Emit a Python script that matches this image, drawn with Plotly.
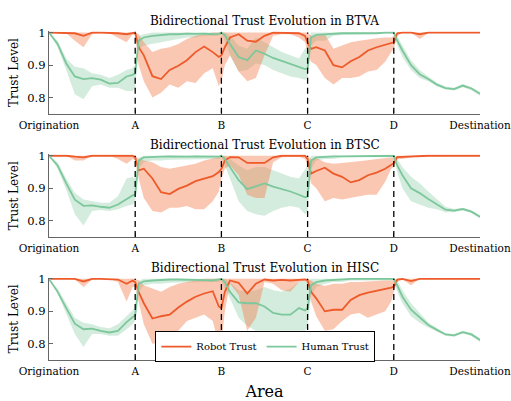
import plotly.graph_objects as go

# ---------------- data ----------------
X = [0, 0.1, 0.2, 0.3, 0.4, 0.5, 0.6, 0.7, 0.8, 0.9, 0.97, 1.0, 1.04,
     1.1, 1.2, 1.3, 1.4, 1.5, 1.6, 1.7, 1.8, 1.9, 1.97, 2.0, 2.04,
     2.1, 2.2, 2.3, 2.4, 2.5, 2.6, 2.7, 2.8, 2.9, 2.97, 3.0, 3.04,
     3.1, 3.2, 3.3, 3.4, 3.5, 3.6, 3.7, 3.8, 3.9, 3.97, 4.0, 4.04,
     4.1, 4.2, 4.3, 4.4, 4.5, 4.6, 4.7, 4.8, 4.9, 5.0]

TICK_VALS = [0, 1, 2, 3, 4, 5]
TICK_TEXT = ["Origination", "A", "B", "C", "D", "Destination"]
BOUNDS = [1, 2, 3, 4]
TITLES = ["Bidirectional Trust Evolution in BTVA",
          "Bidirectional Trust Evolution in BTSC",
          "Bidirectional Trust Evolution in HISC"]

# --- BTVA ---
btva_robot = [1.0, 1.0, 1.0, 0.998, 0.99, 1.0, 1.0, 1.0, 0.998, 0.995, 1.0, 1.0, 0.955,
              0.93, 0.866, 0.857, 0.885, 0.898, 0.915, 0.94, 0.957, 0.94, 0.925, 0.93, 0.955,
              0.985, 0.995, 0.975, 0.972, 0.99, 1.0, 1.0, 1.0, 0.998, 0.99, 0.97, 0.95,
              0.955, 0.945, 0.9, 0.893, 0.912, 0.925, 0.945, 0.955, 0.962, 0.966, 0.97, 0.998,
              1.0, 1.0, 0.995, 1.0, 1.0, 1.0, 1.0, 1.0, 1.0, 1.0]
btva_robot_lo = [1.0, 1.0, 0.998, 0.975, 0.955, 0.995, 0.998, 0.998, 0.985, 0.97, 0.995, 0.99, 0.9,
                 0.85, 0.8, 0.815, 0.84, 0.83, 0.85, 0.845, 0.875, 0.89, 0.835, 0.85, 0.9,
                 0.93, 0.88, 0.85, 0.86, 0.93, 0.99, 0.995, 0.995, 0.985, 0.97, 0.94, 0.91,
                 0.9, 0.86, 0.84, 0.86, 0.86, 0.865, 0.88, 0.885, 0.91, 0.94, 0.95, 0.99,
                 1.0, 1.0, 0.98, 0.998, 1.0, 1.0, 1.0, 1.0, 1.0, 1.0]
btva_robot_hi = [1.0, 1.0, 1.0, 1.0, 1.0, 1.0, 1.0, 1.0, 1.0, 1.0, 1.0, 1.0, 0.995,
                 0.97, 0.94, 0.95, 0.955, 0.965, 0.98, 0.99, 0.995, 1.0, 1.0, 1.0, 1.0,
                 1.0, 1.0, 1.0, 1.0, 1.0, 1.0, 1.0, 1.0, 1.0, 1.0, 1.0, 0.99,
                 0.99, 0.995, 0.95, 0.96, 0.97, 0.975, 0.98, 0.983, 0.985, 0.985, 0.99, 1.0,
                 1.0, 1.0, 1.0, 1.0, 1.0, 1.0, 1.0, 1.0, 1.0, 1.0]
btva_human = [1.0, 0.965, 0.905, 0.865, 0.857, 0.86, 0.855, 0.843, 0.845, 0.865, 0.87, 0.875, 0.975,
              0.985, 0.99, 0.993, 0.995, 0.995, 0.997, 0.996, 0.997, 0.995, 0.996, 1.0, 0.992,
              0.965, 0.925, 0.915, 0.945, 0.935, 0.922, 0.913, 0.903, 0.893, 0.888, 0.89, 0.985,
              0.993, 0.995, 0.997, 0.998, 0.998, 0.998, 0.997, 0.998, 1.0, 1.0, 1.0, 0.975,
              0.945, 0.9, 0.872, 0.857, 0.84, 0.829, 0.826, 0.837, 0.828, 0.812]
btva_human_lo = [1.0, 0.955, 0.885, 0.81, 0.795, 0.835, 0.84, 0.83, 0.83, 0.82, 0.82, 0.83, 0.95,
                 0.96, 0.965, 0.97, 0.975, 0.98, 0.985, 0.985, 0.99, 0.99, 0.99, 0.995, 0.975,
                 0.93, 0.88, 0.885, 0.905, 0.9, 0.885, 0.875, 0.865, 0.86, 0.855, 0.86, 0.96,
                 0.975, 0.975, 0.99, 0.993, 0.995, 0.995, 0.995, 0.996, 0.997, 0.997, 0.995, 0.96,
                 0.925, 0.885, 0.86, 0.85, 0.835, 0.825, 0.822, 0.832, 0.823, 0.806]
btva_human_hi = [1.0, 0.975, 0.92, 0.895, 0.89, 0.875, 0.87, 0.86, 0.87, 0.885, 0.89, 0.9, 0.99,
                 0.995, 1.0, 1.0, 1.0, 1.0, 1.0, 1.0, 1.0, 1.0, 1.0, 1.0, 1.0,
                 0.99, 0.96, 0.95, 0.985, 0.97, 0.955, 0.94, 0.93, 0.92, 0.95, 0.96, 1.0,
                 1.0, 1.0, 1.0, 1.0, 1.0, 1.0, 1.0, 1.0, 1.0, 1.0, 1.0, 0.99,
                 0.96, 0.915, 0.885, 0.865, 0.846, 0.834, 0.83, 0.842, 0.833, 0.817]

# --- BTSC ---
btsc_robot = [1.0, 1.0, 1.0, 0.997, 0.995, 1.0, 1.0, 1.0, 1.0, 0.998, 1.0, 0.995, 0.955,
              0.96, 0.93, 0.888, 0.882, 0.898, 0.908, 0.922, 0.93, 0.937, 0.95, 0.96, 0.985,
              0.996, 0.995, 0.978, 0.978, 0.978, 0.995, 1.0, 1.0, 1.0, 1.0, 0.99, 0.945,
              0.953, 0.963, 0.945, 0.935, 0.918, 0.925, 0.94, 0.948, 0.96, 0.973, 0.977, 0.996,
              0.997, 0.998, 0.999, 1.0, 1.0, 1.0, 1.0, 1.0, 1.0, 1.0]
btsc_robot_lo = [1.0, 1.0, 1.0, 0.985, 0.985, 1.0, 1.0, 1.0, 0.99, 0.975, 0.99, 0.985, 0.93,
                 0.87, 0.83, 0.825, 0.84, 0.84, 0.845, 0.835, 0.835, 0.86, 0.89, 0.93, 0.96,
                 0.97, 0.94, 0.88, 0.87, 0.87, 0.98, 0.995, 0.997, 0.997, 0.99, 0.97, 0.915,
                 0.9, 0.86, 0.87, 0.865, 0.87, 0.875, 0.88, 0.88, 0.92, 0.96, 0.965, 0.99,
                 0.99, 0.995, 0.998, 1.0, 1.0, 1.0, 1.0, 1.0, 1.0, 1.0]
btsc_robot_hi = [1.0, 1.0, 1.0, 1.0, 1.0, 1.0, 1.0, 1.0, 1.0, 1.0, 1.0, 1.0, 0.99,
                 0.985, 0.98, 0.965, 0.96, 0.965, 0.97, 0.975, 0.985, 0.99, 0.995, 1.0, 1.0,
                 1.0, 1.0, 1.0, 1.0, 1.0, 1.0, 1.0, 1.0, 1.0, 1.0, 1.0, 0.99,
                 0.993, 0.98, 0.975, 0.978, 0.98, 0.983, 0.986, 0.99, 0.993, 0.995, 0.995, 1.0,
                 1.0, 1.0, 1.0, 1.0, 1.0, 1.0, 1.0, 1.0, 1.0, 1.0]
btsc_human = [1.0, 0.97, 0.915, 0.865, 0.846, 0.847, 0.843, 0.84, 0.85, 0.868, 0.878, 0.88, 0.985,
              0.995, 0.997, 0.997, 0.998, 0.997, 0.997, 0.998, 0.997, 0.997, 0.997, 1.0, 0.99,
              0.965, 0.925, 0.897, 0.905, 0.915, 0.905, 0.898, 0.89, 0.88, 0.872, 0.875, 0.985,
              0.995, 0.997, 0.998, 0.998, 0.998, 0.998, 0.998, 0.998, 0.998, 1.0, 1.0, 0.97,
              0.94, 0.9, 0.885, 0.867, 0.85, 0.834, 0.831, 0.836, 0.828, 0.812]
btsc_human_lo = [1.0, 0.96, 0.895, 0.82, 0.785, 0.83, 0.833, 0.83, 0.835, 0.845, 0.85, 0.86, 0.96,
                 0.98, 0.985, 0.985, 0.988, 0.99, 0.99, 0.99, 0.99, 0.99, 0.99, 0.995, 0.97,
                 0.93, 0.86, 0.83, 0.82, 0.815, 0.83, 0.84, 0.845, 0.84, 0.82, 0.83, 0.96,
                 0.985, 0.99, 0.99, 0.995, 0.995, 0.995, 0.995, 0.995, 0.995, 0.995, 0.995, 0.95,
                 0.9, 0.86, 0.85, 0.84, 0.835, 0.826, 0.826, 0.832, 0.824, 0.807]
btsc_human_hi = [1.0, 0.98, 0.93, 0.885, 0.865, 0.86, 0.855, 0.855, 0.875, 0.93, 0.935, 0.93, 0.995,
                 1.0, 1.0, 1.0, 1.0, 1.0, 1.0, 1.0, 1.0, 1.0, 1.0, 1.0, 1.0,
                 0.99, 0.97, 0.955, 0.965, 0.965, 0.955, 0.945, 0.935, 0.93, 0.96, 0.97, 1.0,
                 1.0, 1.0, 1.0, 1.0, 1.0, 1.0, 1.0, 1.0, 1.0, 1.0, 1.0, 0.99,
                 0.965, 0.935, 0.915, 0.89, 0.865, 0.843, 0.836, 0.84, 0.832, 0.817]

# --- HISC ---
hisc_robot = [1.0, 1.0, 1.0, 1.0, 0.992, 1.0, 1.0, 1.0, 0.998, 0.985, 0.995, 0.99, 0.96,
              0.925, 0.878, 0.885, 0.89, 0.912, 0.93, 0.945, 0.955, 0.962, 0.915, 0.91, 0.96,
              0.995, 0.988, 0.955, 0.985, 0.998, 0.995, 0.997, 0.995, 0.997, 0.998, 0.995, 0.96,
              0.94, 0.9, 0.905, 0.905, 0.935, 0.95, 0.958, 0.963, 0.968, 0.973, 0.976, 0.998,
              1.0, 0.993, 1.0, 1.0, 1.0, 1.0, 1.0, 1.0, 1.0, 1.0]
hisc_robot_lo = [1.0, 1.0, 1.0, 0.998, 0.975, 0.998, 1.0, 1.0, 0.99, 0.93, 0.975, 0.975, 0.93,
                 0.86, 0.8, 0.805, 0.815, 0.84, 0.87, 0.88, 0.89, 0.87, 0.795, 0.8, 0.9,
                 0.985, 0.95, 0.84, 0.88, 0.99, 0.985, 0.965, 0.96, 0.99, 0.995, 0.985, 0.93,
                 0.885, 0.84, 0.845, 0.87, 0.89, 0.895, 0.88, 0.89, 0.9, 0.93, 0.96, 0.99,
                 0.998, 0.98, 1.0, 1.0, 1.0, 1.0, 1.0, 1.0, 1.0, 1.0]
hisc_robot_hi = [1.0, 1.0, 1.0, 1.0, 1.0, 1.0, 1.0, 1.0, 1.0, 1.0, 1.0, 1.0, 0.995,
                 0.98, 0.97, 0.96, 0.975, 0.985, 0.99, 0.995, 1.0, 1.0, 1.0, 1.0, 1.0,
                 1.0, 1.0, 1.0, 1.0, 1.0, 1.0, 1.0, 1.0, 1.0, 1.0, 1.0, 0.995,
                 0.985, 0.978, 0.985, 0.985, 0.99, 0.99, 0.992, 0.993, 0.995, 0.995, 0.995, 1.0,
                 1.0, 1.0, 1.0, 1.0, 1.0, 1.0, 1.0, 1.0, 1.0, 1.0]
hisc_human = [1.0, 0.96, 0.91, 0.862, 0.845, 0.847, 0.84, 0.835, 0.84, 0.867, 0.882, 0.888, 0.985,
              0.992, 0.995, 0.997, 0.998, 0.998, 0.998, 0.997, 0.996, 0.995, 0.997, 1.0, 0.99,
              0.96, 0.928, 0.925, 0.925, 0.915, 0.895, 0.89, 0.89, 0.91, 0.903, 0.91, 0.98,
              0.99, 0.995, 0.997, 0.998, 1.0, 1.0, 1.0, 1.0, 1.0, 1.0, 1.0, 0.98,
              0.945, 0.905, 0.88, 0.858, 0.843, 0.829, 0.826, 0.836, 0.829, 0.812]
hisc_human_lo = [1.0, 0.955, 0.895, 0.83, 0.79, 0.83, 0.83, 0.825, 0.825, 0.845, 0.86, 0.87, 0.96,
                 0.98, 0.985, 0.985, 0.988, 0.99, 0.99, 0.99, 0.99, 0.99, 0.99, 0.995, 0.97,
                 0.94, 0.88, 0.855, 0.84, 0.84, 0.84, 0.84, 0.84, 0.84, 0.84, 0.85, 0.95,
                 0.975, 0.985, 0.99, 0.99, 0.995, 0.995, 0.995, 0.995, 0.995, 0.995, 0.995, 0.96,
                 0.925, 0.885, 0.865, 0.85, 0.837, 0.825, 0.822, 0.832, 0.824, 0.806]
hisc_human_hi = [1.0, 0.97, 0.925, 0.88, 0.865, 0.86, 0.852, 0.848, 0.86, 0.885, 0.9, 0.91, 0.995,
                 1.0, 1.0, 1.0, 1.0, 1.0, 1.0, 1.0, 1.0, 1.0, 1.0, 1.0, 1.0,
                 0.99, 0.965, 0.96, 0.965, 0.975, 0.965, 0.96, 0.97, 0.99, 0.995, 0.99, 1.0,
                 1.0, 1.0, 1.0, 1.0, 1.0, 1.0, 1.0, 1.0, 1.0, 1.0, 1.0, 0.995,
                 0.965, 0.925, 0.895, 0.866, 0.849, 0.833, 0.83, 0.84, 0.834, 0.818]

PANELS = [
    (btva_robot, btva_robot_lo, btva_robot_hi, btva_human, btva_human_lo, btva_human_hi),
    (btsc_robot, btsc_robot_lo, btsc_robot_hi, btsc_human, btsc_human_lo, btsc_human_hi),
    (hisc_robot, hisc_robot_lo, hisc_robot_hi, hisc_human, hisc_human_lo, hisc_human_hi),
]

# ---------------- style ----------------
W, H = 511, 401
FONT = "DejaVu Serif"
ROBOT = "#EE5A2A"
HUMAN = "#7CC79B"
ROBOT_BAND = "rgba(242,122,72,0.42)"
HUMAN_BAND = "rgba(120,195,150,0.32)"
AXC = "#666666"
PANEL_TOP_PX = [25.7, 150.7, 275.7]
PANEL_BOT_PX = [109.5, 234.5, 359.5]
TITLE_PX = [15, 141, 266]

fig = go.Figure()
layout = dict(
    width=W, height=H,
    margin=dict(l=49, r=31, t=0, b=0),
    paper_bgcolor="white", plot_bgcolor="white",
    font=dict(family=FONT, size=12, color="black"),
    showlegend=True,
    legend=dict(orientation="h", x=0.502, xanchor="center", y=0.0985, yanchor="bottom",
                bgcolor="white", bordercolor="black", borderwidth=1,
                font=dict(family=FONT, size=10), tracegroupgap=0,
                itemwidth=30),
)

shapes = []
annotations = []
for k, (r, rlo, rhi, h, hlo, hhi) in enumerate(PANELS):
    idx = "" if k == 0 else str(k + 1)
    xa, ya = "x" + idx, "y" + idx
    fig.add_trace(go.Scatter(x=X + X[::-1], y=hhi + hlo[::-1], fill="toself",
                             fillcolor=HUMAN_BAND, line=dict(width=0), mode="lines",
                             hoverinfo="skip", showlegend=False, xaxis=xa, yaxis=ya))
    fig.add_trace(go.Scatter(x=X + X[::-1], y=rhi + rlo[::-1], fill="toself",
                             fillcolor=ROBOT_BAND, line=dict(width=0), mode="lines",
                             hoverinfo="skip", showlegend=False, xaxis=xa, yaxis=ya))
    fig.add_trace(go.Scatter(x=X, y=r, mode="lines", line=dict(color=ROBOT, width=1.8),
                             name="Robot Trust", showlegend=(k == 2), xaxis=xa, yaxis=ya))
    fig.add_trace(go.Scatter(x=X, y=h, mode="lines", line=dict(color=HUMAN, width=1.8),
                             name="Human Trust", showlegend=(k == 2), xaxis=xa, yaxis=ya))
    dom = [1 - PANEL_BOT_PX[k] / H, 1 - PANEL_TOP_PX[k] / H]
    layout["xaxis" + idx] = dict(
        domain=[0, 1], range=[0, 5], anchor=ya,
        tickvals=TICK_VALS, ticktext=TICK_TEXT, ticks="inside", ticklen=4,
        tickcolor=AXC, showline=True, linecolor=AXC, linewidth=1.2,
        showgrid=False, zeroline=False, tickfont=dict(family=FONT, size=10.5),
        ticklabelstandoff=1, ticklabeloverflow="allow",
    )
    layout["yaxis" + idx] = dict(
        domain=dom, range=[0.75, 1.004], anchor=xa,
        tickvals=[0.8, 0.9, 1.0], ticktext=["0.8", "0.9", "1"], ticks="inside", ticklen=4,
        tickcolor=AXC, showline=True, linecolor=AXC, linewidth=1.2,
        showgrid=False, zeroline=False, tickfont=dict(family=FONT, size=11.5),
        title=dict(text="Trust Level", font=dict(family=FONT, size=12), standoff=6),
    )
    for b in BOUNDS:
        shapes.append(dict(type="line", xref=xa, yref=ya, x0=b, x1=b, y0=0.75, y1=1.0,
                           line=dict(color="black", width=1.3, dash="6px,4px"), layer="above"))
    annotations.append(dict(text=TITLES[k], xref="paper", yref="paper", x=0.5,
                            y=1 - TITLE_PX[k] / H, xanchor="center", yanchor="middle",
                            showarrow=False, font=dict(family=FONT, size=12)))

layout["xaxis3"]["title"] = dict(text="Area", font=dict(family=FONT, size=16), standoff=12)
layout["shapes"] = shapes
layout["annotations"] = annotations
fig.update_layout(**layout)
fig.write_html("out.html")
